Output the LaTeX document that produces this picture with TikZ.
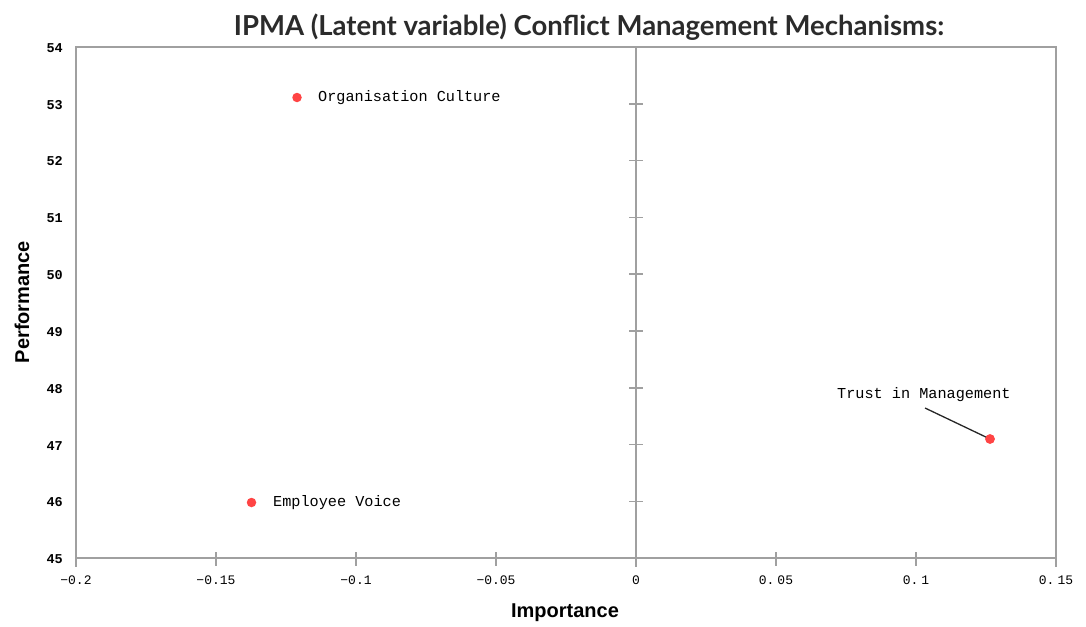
\documentclass[tikz,border=0pt]{standalone}
\usepackage{fontspec}
\setmainfont{Liberation Sans}
\newfontfamily\titlefont{Lato}
\newfontfamily\monofont{Liberation Mono}
\definecolor{axisgray}{HTML}{A0A0A0}
\definecolor{ptred}{HTML}{FF4444}
\definecolor{titlegray}{HTML}{2B2B2B}
\begin{document}
\begin{tikzpicture}[x=1pt,y=-1pt,
  axisline/.style={draw=axisgray,line width=1.6pt},
  pt/.style={circle,fill=ptred,inner sep=0pt,minimum size=9.5pt},
  ptlabel/.style={font=\monofont\fontsize{15.2}{17}\selectfont,inner sep=0pt,anchor=west},
  xtick/.style={font=\monofont\fontsize{13}{15}\selectfont,inner sep=0pt,anchor=north},
  ytick/.style={font=\monofont\bfseries\fontsize{13.5}{15}\selectfont,inner sep=0pt,anchor=east},
  axlabel/.style={font=\bfseries\fontsize{20}{24}\selectfont,inner sep=0pt}]
\useasboundingbox (0,0) rectangle (1086,626);
% title
\node[font=\titlefont\bfseries\fontsize{27.5}{32}\selectfont,text=titlegray,inner sep=0pt] (title) at (589,27) {IPMA (Latent variable) Conflict Management Mechanisms:};
% frame
\draw[axisline] (76,47) rectangle (1056,558);
\draw[axisline] (76,558) -- (76,567);
\draw[axisline] (1056,558) -- (1056,567);
% center line
\draw[axisline] (636,47) -- (636,567);
% x ticks
\foreach \xx in {216,356,496,776,916}
  \draw[axisline] (\xx,552) -- (\xx,566);
% y ticks on center line
\foreach \yy in {103.8,160.6,217.4,274.2,331,387.8,444.6,501.4}
  \draw[axisline] (629,\yy) -- (643,\yy);
% x tick labels
\node[xtick] (xl1) at (76,576) {−0.2};
\node[xtick] (xl2) at (216,576) {−0.15};
\node[xtick] (xl3) at (356,576) {−0.1};
\node[xtick] (xl4) at (496,576) {−0.05};
\node[xtick] (xl5) at (636,576) {0};
\node[xtick] (xl6) at (776,576) {0.\hspace{3pt}05};
\node[xtick] (xl7) at (916,576) {0.\hspace{3pt}1};
\node[xtick] (xl8) at (1056,576) {0.\hspace{3pt}15};
% y tick labels
\node[ytick] (yl54) at (63,48) {54};
\node[ytick] (yl53) at (63,105) {53};
\node[ytick] (yl52) at (63,161.5) {52};
\node[ytick] (yl51) at (63,218.5) {51};
\node[ytick] (yl50) at (63,275) {50};
\node[ytick] (yl49) at (63,332) {49};
\node[ytick] (yl48) at (63,389) {48};
\node[ytick] (yl47) at (63,446) {47};
\node[ytick] (yl46) at (63,502.5) {46};
\node[ytick] (yl45) at (63,559) {45};
% axis labels
\node[axlabel] (xlab) at (565,613) {Importance};
\node[axlabel,rotate=90] (ylab) at (22,302) {Performance};
% points
\node[pt] (oc) at (297,97.5) {};
\node[pt] (ev) at (251.5,502.5) {};
\node[pt] (tm) at (990,439) {};
\node[ptlabel] (ocl) at (318,98) {Organisation Culture};
\node[ptlabel] (evl) at (273,503) {Employee Voice};
\node[ptlabel] (tml) at (837,395) {Trust in Management};
\coordinate (tmlead) at (925,408);
\draw[line width=1.3pt,black!85] (tmlead) -- (tm.center);
\node[pt] at (tm) {};
\end{tikzpicture}
\end{document}
